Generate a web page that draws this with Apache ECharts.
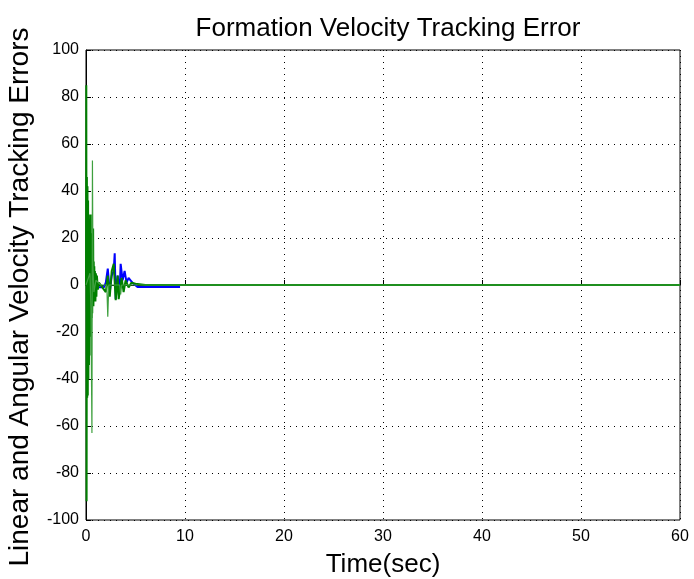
<!DOCTYPE html>
<html>
<head>
<meta charset="utf-8">
<script src="https://cdn.jsdelivr.net/npm/echarts@6/dist/echarts.min.js"></script>
<style>
  html, body { margin: 0; padding: 0; background: #fff; }
  #chart { width: 694px; height: 579px; }
</style>
</head>
<body>
<div id="chart"></div>
<script>
// time samples (sec) and tracking errors
var blueTime = [0, 0.1, 0.2, 0.3, 0.4, 0.5, 0.6, 0.7, 0.9, 1.1, 1.4, 1.8, 2.0, 2.2, 2.4, 2.6, 2.8, 2.9, 3.0, 3.2, 3.4, 3.5, 3.7, 3.9, 4.1, 4.3, 4.5, 4.8, 5.2, 9.5];
var blueErr = [0, 4, -6, 5, -5, -7, 3, -1, -1, -1, -1, -1, 1, 7, -3, 4, 6, 13.5, -6, 4, -3, 9, 2, 6, 1, 3, 2, 0.5, -0.8, -0.8];

var greenTime = [0, 0.03, 0.06, 0.09, 0.12, 0.15, 0.18, 0.21, 0.24, 0.27, 0.30, 0.33, 0.36, 0.39, 0.42, 0.45, 0.48, 0.51, 0.54, 0.57, 0.60, 0.63, 0.66, 0.69, 0.72, 0.75, 0.78, 0.81, 0.84, 0.87, 0.90, 0.95, 1.0, 1.05, 1.1, 1.2, 1.3, 1.5, 2.0, 2.2, 2.4, 2.6, 2.8, 3.0, 3.2, 3.3, 3.6, 3.8, 4.0, 4.3, 4.6, 5.0, 6.0, 60];
var greenErr = [0, 85, -92, 46, -48, 42, -47, 36, -40, 30, -34, 26, -30, 20, -22, 18, 30, -16, 22, -14, 14, -12, 16, -9, 24, -9, 10, -7, 8, -6, 6, -7, 5, -5, 4, -2, 1, 0.5, -3, 4, -5, 6, 9, -6.5, 4, -6, 3, -3, 2, -1, 1, 0.5, 0, 0];

var lightTime = [0, 0.4, 0.5, 0.6, 0.65, 0.7, 0.8, 1.0, 1.5, 2.1, 2.2, 2.3, 2.8, 3.4, 3.5, 3.6, 4.2, 60];
var lightErr = [0, 5, -10, -63, 53, 8, -3, 2, 0, 0, -13.5, 0, 0, 0, -4, 0, 0, 0];

var xTicks = [0, 10, 20, 30, 40, 50, 60];
var yTicks = [-100, -80, -60, -40, -20, 0, 20, 40, 60, 80, 100];

function zip(t, v) {
  return t.map(function (x, i) { return [x, v[i]]; });
}

var chart = echarts.init(document.getElementById('chart'));
var font = 'Liberation Sans, Arial, sans-serif';
var gridLine = { show: true, lineStyle: { color: '#000', type: [1, 5], width: 1 } };

chart.setOption({
  animation: false,
  backgroundColor: '#fff',
  title: {
    text: 'Formation Velocity Tracking Error',
    left: 383, textAlign: 'center', top: 11,
    textStyle: { fontFamily: font, fontSize: 26, fontWeight: 'normal', color: '#000' }
  },
  grid: {
    left: 86, right: 14, top: 50, bottom: 59, outerBoundsMode: 'none',
    show: true, borderColor: '#000', borderWidth: 1, backgroundColor: 'transparent'
  },
  xAxis: {
    type: 'value', min: xTicks[0], max: xTicks[xTicks.length - 1], interval: 10,
    name: 'Time(sec)', nameLocation: 'middle', nameGap: 32,
    nameTextStyle: { fontFamily: font, fontSize: 26, color: '#000' },
    axisLine: { show: true, lineStyle: { color: '#000' } },
    axisTick: { show: true, inside: true, length: 5, lineStyle: { color: '#000' } },
    axisLabel: { fontFamily: font, fontSize: 16, color: '#000', margin: 9 },
    splitLine: gridLine
  },
  yAxis: {
    type: 'value', min: yTicks[0], max: yTicks[yTicks.length - 1], interval: 20,
    name: 'Linear and Angular Velocity Tracking Errors', nameLocation: 'middle', nameGap: 52,
    nameTextStyle: { fontFamily: font, fontSize: 28, color: '#000', padding: [0, 24, 0, 0] },
    axisLine: { show: true, lineStyle: { color: '#000' } },
    axisTick: { show: true, inside: true, length: 5, lineStyle: { color: '#000' } },
    axisLabel: { fontFamily: font, fontSize: 16, color: '#000', margin: 7 },
    splitLine: gridLine
  },
  series: [
    { type: 'line', data: zip(blueTime, blueErr), showSymbol: false, lineStyle: { color: '#0000ff', width: 2 } },
    { type: 'line', data: zip(greenTime, greenErr), showSymbol: false, lineStyle: { color: '#007f00', width: 2 } },
    { type: 'line', data: zip(lightTime, lightErr), showSymbol: false, lineStyle: { color: '#3fa03f', width: 1.2 } }
  ]
});
</script>
</body>
</html>
